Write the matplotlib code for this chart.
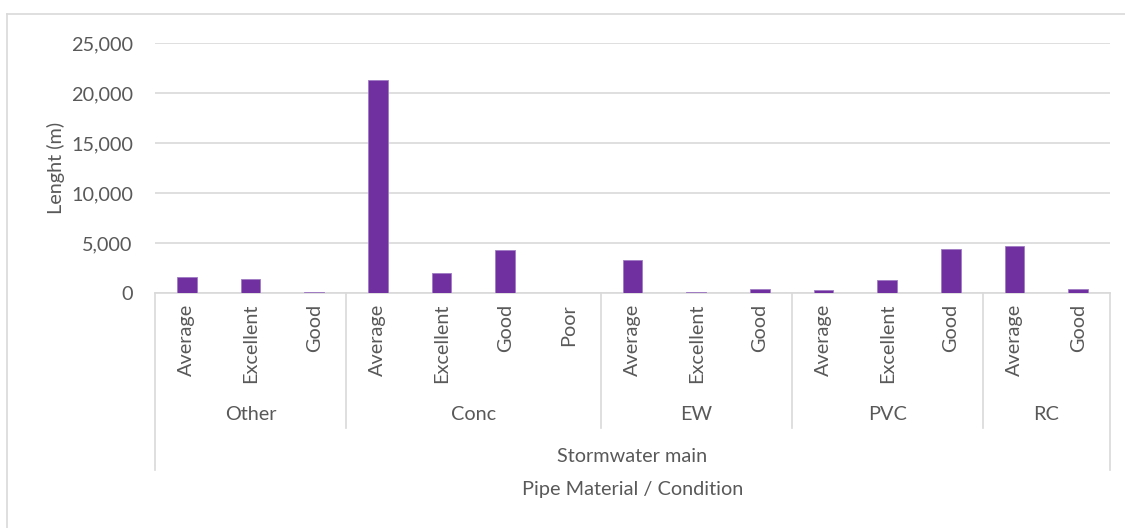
import matplotlib
matplotlib.use("Agg")
import matplotlib.pyplot as plt
import matplotlib.transforms as mtransforms
from matplotlib.lines import Line2D
from matplotlib.ticker import FuncFormatter

# pipe length by material / condition (stormwater mains)
materials = ["Other", "Conc", "EW", "PVC", "RC"]
conditions = [
    ["Average", "Excellent", "Good"],
    ["Average", "Excellent", "Good", "Poor"],
    ["Average", "Excellent", "Good"],
    ["Average", "Excellent", "Good"],
    ["Average", "Good"],
]
lengths = [
    [1630, 1360, 130],
    [21300, 2030, 4330, 0],
    [3330, 60, 360],
    [330, 1330, 4400],
    [4660, 430],
]

BAR = "#7030A0"
GRID = "#D9D9D9"
TXT = "#595959"
FS = 14.3

plt.rcParams["font.family"] = "Lato"

W, H = 1125, 528
fig = plt.figure(figsize=(W / 100, H / 100), dpi=100)
fig.patch.set_facecolor("white")

# plot area in pixels
x0, x1, y0, y1 = 155, 1110, 43, 293
ax = fig.add_axes([x0 / W, 1 - y1 / H, (x1 - x0) / W, (y1 - y0) / H])

labels, values = [], []
for conds, vals in zip(conditions, lengths):
    labels += conds
    values += vals
xs = list(range(len(values)))

ax.bar(xs, values, width=0.31, color=BAR, edgecolor="#A07CC5", linewidth=0.6, zorder=3)

ax.set_xlim(-0.5, len(values) - 0.5)
ax.set_ylim(0, 25000)
ax.set_yticks(range(0, 25001, 5000))
ax.yaxis.set_major_formatter(FuncFormatter(lambda v, p: f"{int(v):,}"))
ax.grid(axis="y", color=GRID, linewidth=1.2, zorder=0)
ax.tick_params(axis="y", length=0, pad=16, labelsize=FS, labelcolor=TXT)

ax.set_xticks(xs)
ax.set_xticklabels(labels, rotation=90)
ax.tick_params(axis="x", length=0, pad=8, labelsize=FS, labelcolor=TXT)

for s in ["top", "right", "left"]:
    ax.spines[s].set_visible(False)
ax.spines["bottom"].set_color(GRID)
ax.spines["bottom"].set_linewidth(1.2)

ph = y1 - y0
ax.text((56 - x0) / (x1 - x0), 0.5, "Lenght (m)", transform=ax.transAxes,
        rotation=90, ha="center", va="center", fontsize=FS, color=TXT)

# multi-level category axis: group separators, group names and outer labels
trans = mtransforms.blended_transform_factory(ax.transData, ax.transAxes)
inner_bottom = -(428 - y1) / ph
outer_bottom = -(470 - y1) / ph
edges = [-0.5]
for conds in conditions:
    edges.append(edges[-1] + len(conds))
for i, e in enumerate(edges):
    yb = outer_bottom if i in (0, len(edges) - 1) else inner_bottom
    ax.add_line(Line2D([e, e], [0, yb], transform=trans, color=GRID,
                       linewidth=1.2, clip_on=False))
for name, a, b in zip(materials, edges[:-1], edges[1:]):
    ax.text((a + b) / 2, -(414 - y1) / ph, name, transform=trans,
            ha="center", va="center", fontsize=FS, color=TXT)

ax.text(0.5, -(456 - y1) / ph, "Stormwater main", transform=ax.transAxes,
        ha="center", va="center", fontsize=FS, color=TXT)
ax.text(0.5, -(489 - y1) / ph, "Pipe Material / Condition", transform=ax.transAxes,
        ha="center", va="center", fontsize=FS, color=TXT)

# chart border
fig.add_artist(Line2D([7 / W, 7 / W], [0, 1 - 14 / H], color=GRID, linewidth=1.2))
fig.add_artist(Line2D([7 / W, 1], [1 - 14 / H, 1 - 14 / H], color=GRID, linewidth=1.2))

fig.savefig("out.png", dpi=100, facecolor="white")
